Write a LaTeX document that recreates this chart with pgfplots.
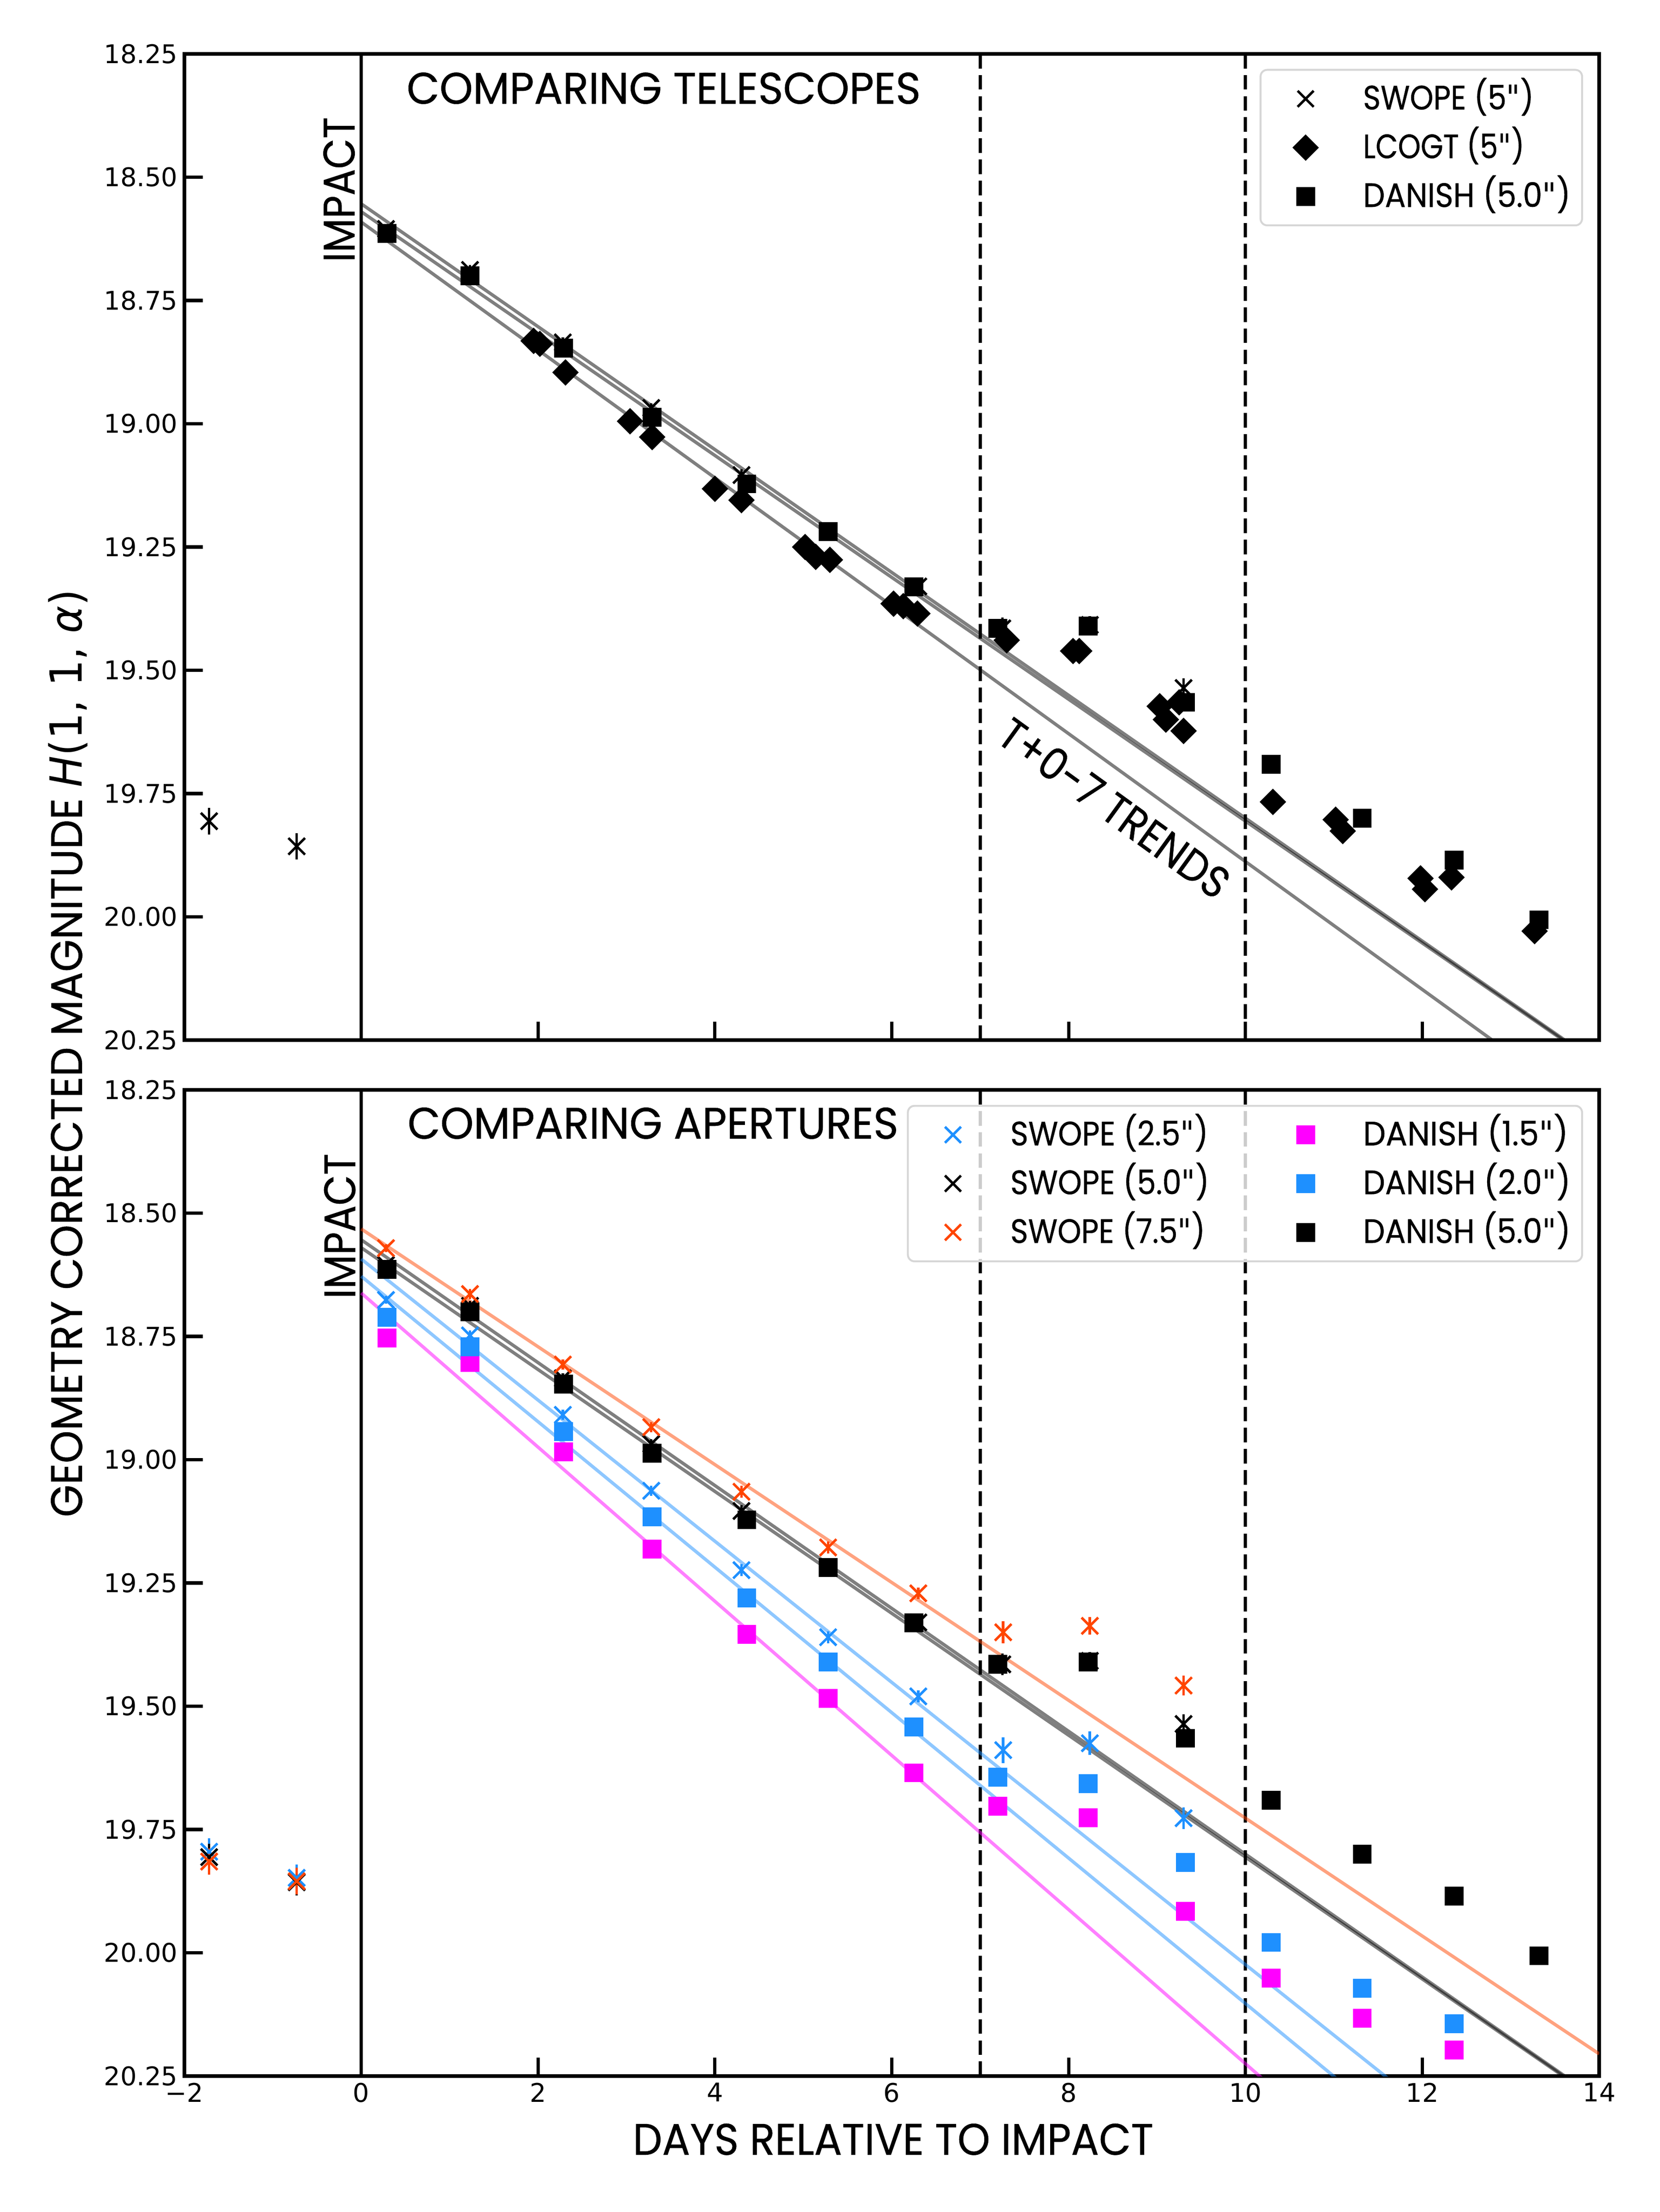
\documentclass[border=0pt]{standalone}
\usepackage{fontspec}
\setmainfont{Poppins}[FakeBold=0.6]
\newfontfamily\dejavu{DejaVu Sans}
\usepackage{graphicx}
\usepackage{pgfplots}
\usepackage{pgfplotstable}
\pgfplotsset{compat=1.18}
\newcommand\fitw[2]{\resizebox{#1}{\height}{#2}}
\newcommand\bigfont{\fontsize{23bp}{27bp}\selectfont}
\newcommand\dq{{\dejavu\char"0022}}
\definecolor{sblue}{HTML}{1E90FF}
\definecolor{sorange}{HTML}{FF4500}
\definecolor{smag}{HTML}{FF00FF}

\pgfplotstableread{
x y e
-1.72 19.806 0.027
-0.73 19.857 0.027
0.28 18.605 0.008
1.23 18.688 0.010
2.28 18.835 0.010
3.28 18.968 0.010
4.30 19.104 0.012
5.28 19.218 0.012
6.30 19.330 0.012
7.25 19.415 0.022
8.24 19.408 0.018
9.30 19.536 0.020
}\swfive
\pgfplotstableread{
x y e
-1.72 19.795 0.027
-0.73 19.848 0.027
0.28 18.676 0.008
1.23 18.748 0.010
2.28 18.909 0.010
3.28 19.063 0.010
4.30 19.224 0.012
5.28 19.360 0.012
6.30 19.480 0.012
7.26 19.589 0.026
8.24 19.575 0.024
9.30 19.727 0.022
}\swtwo
\pgfplotstableread{
x y e
-1.72 19.815 0.027
-0.73 19.855 0.027
0.28 18.571 0.008
1.23 18.664 0.010
2.28 18.807 0.010
3.28 18.934 0.010
4.30 19.065 0.012
5.28 19.178 0.012
6.30 19.271 0.012
7.26 19.350 0.022
8.24 19.337 0.018
9.30 19.458 0.020
}\swseven
\pgfplotstableread{
x y
0.29 18.614
1.23 18.700
2.29 18.847
3.29 18.987
4.36 19.122
5.28 19.219
6.25 19.331
7.20 19.415
8.22 19.410
9.32 19.565
10.29 19.691
11.32 19.800
12.36 19.885
13.32 20.006
}\dafive
\pgfplotstableread{
x y
0.29 18.711
1.23 18.771
2.29 18.943
3.29 19.116
4.36 19.280
5.28 19.410
6.25 19.542
7.20 19.644
8.22 19.657
9.32 19.817
10.29 19.979
11.32 20.072
12.36 20.144
}\datwo
\pgfplotstableread{
x y
0.29 18.753
1.23 18.803
2.29 18.984
3.29 19.181
4.36 19.354
5.28 19.484
6.25 19.635
7.20 19.703
8.22 19.726
9.32 19.916
10.29 20.051
11.32 20.133
12.36 20.197
}\daone
\pgfplotstableread{
x y
1.95 18.832
2.02 18.838
2.31 18.896
3.04 18.995
3.29 19.027
4.00 19.132
4.30 19.155
5.02 19.250
5.14 19.270
5.30 19.276
6.02 19.365
6.13 19.370
6.29 19.385
7.30 19.439
8.05 19.461
8.12 19.461
9.03 19.573
9.10 19.600
9.25 19.565
9.30 19.623
10.31 19.767
11.02 19.803
11.10 19.826
11.98 19.922
12.03 19.944
12.33 19.920
13.27 20.029
}\lco

\newcommand\legx[1]{\addlegendimage{legend image code/.code={\path (0bp,-1bp) (34bp,1bp); \draw[#1, sharp corners, solid, fill opacity=1, draw opacity=1, line width=1.3bp, mark=x, mark size=5.9bp, only marks] plot coordinates {(17bp,0bp)};}}}
\newcommand\legsq[1]{\addlegendimage{legend image code/.code={\path (0bp,-1bp) (34bp,1bp); \draw[#1, sharp corners, solid, fill opacity=1, draw opacity=1, line width=0.4bp, mark=square*, mark size=4.7bp, only marks] plot coordinates {(17bp,0bp)};}}}
\newcommand\legdm[1]{\addlegendimage{legend image code/.code={\path (0bp,-1bp) (34bp,1bp); \draw[#1, sharp corners, solid, fill opacity=1, draw opacity=1, line width=0.4bp, mark=square*, mark size=4.67bp, mark options={rotate=45}, only marks] plot coordinates {(17bp,0bp)};}}}

\pgfplotsset{
  panel/.style={
    scale only axis, width=736.56bp, height=513.6bp,
    xmin=-2, xmax=14, ymin=18.25, ymax=20.25, y dir=reverse,
    xtick={-2,0,2,4,6,8,10,12,14},
    ytick={18.25,18.5,18.75,19,19.25,19.5,19.75,20,20.25},
    yticklabels={18.25,18.50,18.75,19.00,19.25,19.50,19.75,20.00,20.25},
    tick align=inside, xtick pos=bottom, ytick pos=left,
    major tick length=9.5bp,
    every tick/.style={black, line width=1.7bp},
    axis line style={line width=1.7bp},
    ticklabel style={font=\dejavu\fontsize{13.4bp}{16bp}\selectfont},
    legend cell align=left,
    legend style={at={(1,1)}, anchor=north east, xshift=-8.4bp, yshift=-7.8bp,
      draw=black!16, line width=1bp, rounded corners=3.5bp, fill=white,
      fill opacity=0.8, text opacity=1, draw opacity=1,
      inner xsep=6bp, inner ysep=5.6bp, row sep=6.4bp,
      font=\fontsize{17.6bp}{20bp}\selectfont,
      nodes={inner xsep=0bp, inner ysep=0bp, text height=15bp, text depth=4bp, anchor=west},
      /tikz/every odd column/.style={column sep=12.4bp},
      /tikz/every even column/.style={column sep=32.7bp},
    },
  },
  xser/.style={only marks, mark=x, mark size=6.1bp, line width=1.3bp, color=#1,
    error bars/y dir=both, error bars/y explicit, error bars/error mark=none,
    error bars/error bar style={line width=1.3bp, color=#1, solid}},
  sqser/.style={only marks, mark=square*, mark size=4.7bp, color=#1, mark options={line width=0.4bp}},
  dmser/.style={only marks, mark=square*, mark size=4.67bp, color=#1, mark options={rotate=45, line width=0.4bp}},
  fitl/.style={no marks, line width=1.7bp, color=#1, opacity=0.5},
  vsolid/.style={no marks, black, line width=1.7bp},
  vdash/.style={no marks, black, line width=1.7bp, dash pattern=on 7.6bp off 3.4bp},
}

\begin{document}
\begin{tikzpicture}
% ---------------- TOP PANEL ----------------
\begin{axis}[panel, at={(0bp,539.52bp)}, anchor=south west, xticklabels={}]
\addplot[vsolid, forget plot] coordinates {(0,18.25) (0,20.25)};
\addplot[vdash, forget plot] coordinates {(7,18.25) (7,20.25)};
\addplot[vdash, forget plot] coordinates {(10,18.25) (10,20.25)};
\addplot[fitl=black, forget plot] coordinates {(0,18.554) (14,20.2984)};
\addplot[fitl=black, forget plot] coordinates {(0,18.570) (14,20.3004)};
\addplot[fitl=black, forget plot] coordinates {(0,18.591) (14,20.4068)};
\addplot[dmser=black, forget plot] table[x=x,y=y] {\lco};
\addplot[sqser=black, forget plot] table[x=x,y=y] {\dafive};
\addplot[xser=black, forget plot] table[x=x,y=y,y error=e] {\swfive};
\legx{black}\addlegendentry{\fitw{88.9bp}{SWOPE (5\dq)}}
\legdm{black}\addlegendentry{\fitw{84bp}{LCOGT (5\dq)}}
\legsq{black}\addlegendentry{\fitw{108bp}{DANISH (5.0\dq)}}
\node[anchor=base west, inner sep=0pt] at (axis cs:0.51,18.351) {\bigfont\fitw{267.6bp}{COMPARING TELESCOPES}};
\node[anchor=base west, inner sep=0pt, rotate=90] at (axis cs:-0.076,18.673) {\bigfont\fitw{75.5bp}{IMPACT}};
\node[anchor=center, inner sep=0pt, rotate=-35.9] at (axis cs:8.52,19.779) {\bigfont\fitw{142bp}{T+0-7 TRENDS}};
\end{axis}
% ---------------- BOTTOM PANEL ----------------
\begin{axis}[panel, at={(0bp,0bp)}, anchor=south west,
  xticklabels={−2,0,2,4,6,8,10,12,14}, legend columns=2]
\addplot[vsolid, forget plot] coordinates {(0,18.25) (0,20.25)};
\addplot[vdash, forget plot] coordinates {(7,18.25) (7,20.25)};
\addplot[vdash, forget plot] coordinates {(10,18.25) (10,20.25)};
\addplot[fitl=smag, forget plot] coordinates {(0,18.662) (14,20.8502)};
\addplot[fitl=sblue, forget plot] coordinates {(0,18.628) (14,20.693)};
\addplot[fitl=sblue, forget plot] coordinates {(0,18.593) (14,20.5964)};
\addplot[fitl=black, forget plot] coordinates {(0,18.554) (14,20.2984)};
\addplot[fitl=black, forget plot] coordinates {(0,18.570) (14,20.3004)};
\addplot[fitl=sorange, forget plot] coordinates {(0,18.532) (14,20.205)};
\addplot[sqser=smag, forget plot] table[x=x,y=y] {\daone};
\addplot[sqser=sblue, forget plot] table[x=x,y=y] {\datwo};
\addplot[sqser=black, forget plot] table[x=x,y=y] {\dafive};
\addplot[xser=sblue, forget plot] table[x=x,y=y,y error=e] {\swtwo};
\addplot[xser=black, forget plot] table[x=x,y=y,y error=e] {\swfive};
\addplot[xser=sorange, forget plot] table[x=x,y=y,y error=e] {\swseven};
\legx{sblue}\addlegendentry{\fitw{103bp}{SWOPE (2.5\dq)}}
\legsq{smag}\addlegendentry{\fitw{106.8bp}{DANISH (1.5\dq)}}
\legx{black}\addlegendentry{\fitw{103.5bp}{SWOPE (5.0\dq)}}
\legsq{sblue}\addlegendentry{\fitw{108bp}{DANISH (2.0\dq)}}
\legx{sorange}\addlegendentry{\fitw{101.4bp}{SWOPE (7.5\dq)}}
\legsq{black}\addlegendentry{\fitw{108bp}{DANISH (5.0\dq)}}
\node[anchor=base west, inner sep=0pt] at (axis cs:0.52,18.349) {\bigfont\fitw{255.5bp}{COMPARING APERTURES}};
\node[anchor=base west, inner sep=0pt, rotate=90] at (axis cs:-0.068,18.674) {\bigfont\fitw{75.5bp}{IMPACT}};
\end{axis}
% ---------------- AXIS LABELS ----------------
\node[anchor=base, inner sep=0pt] at (369bp,-41bp) {\bigfont\fitw{271bp}{DAYS RELATIVE TO IMPACT}};
\node[anchor=base, inner sep=0pt, rotate=90] at (-53.3bp,532.6bp) {\bigfont\fitw{483bp}{GEOMETRY CORRECTED MAGNITUDE {\dejavu\itshape H}{\dejavu (1, 1, }{\dejavu\itshape α}{\dejavu )}}};
\pgfresetboundingbox
\path (-96bp,-70.8bp) rectangle (768bp,1081.2bp);
\end{tikzpicture}
\end{document}
